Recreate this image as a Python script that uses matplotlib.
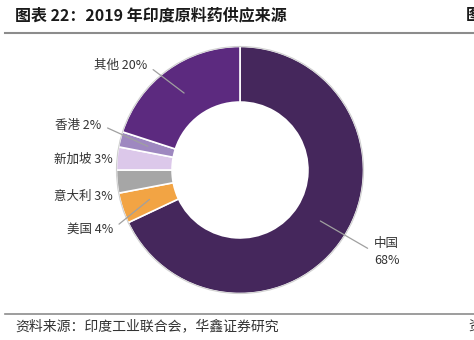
import numpy as np
import matplotlib
matplotlib.use("Agg")
import matplotlib.pyplot as plt
from matplotlib.lines import Line2D

plt.rcParams['font.family'] = ['Noto Sans CJK SC', 'DejaVu Sans']

categories = ['中国', '美国', '意大利', '新加坡', '香港', '其他']
values = [68, 4, 3, 3, 2, 20]
colors = ['#45275C', '#F2A444', '#A6A6A6', '#DCC8EA', '#9E88C0', '#5C2A7F']
title = '图表 22：2019 年印度原料药供应来源'
source = '资料来源：印度工业联合会，华鑫证券研究'

W, H = 474, 340
fig = plt.figure(figsize=(W / 100, H / 100), dpi=100)

cx, cy, R = 240, 170, 126
ax = fig.add_axes([(cx - R) / W, (H - cy - R) / H, 2 * R / W, 2 * R / H])
wedges, _ = ax.pie(values, colors=colors, startangle=90, counterclock=False,
                   radius=1.0,
                   wedgeprops=dict(width=0.45, edgecolor='white', linewidth=1.2))
outer = plt.Circle((0, 0), 1.0, fill=False, edgecolor='#D0D0D0', lw=0.8)
ax.add_patch(outer)
ax.set_xlim(-1.02, 1.02)
ax.set_ylim(-1.02, 1.02)
ax.set_aspect('equal')
ax.axis('off')

# label layout (pixel positions, top-left origin)
label_pos = {
    '中国': (374, 252),
    '美国': (113, 229),
    '意大利': (113, 196),
    '新加坡': (113, 159),
    '香港': (101, 125),
    '其他': (147, 65),
}
with_line = {'中国', '美国', '香港', '其他'}

total = sum(values)
cum = 0
for cat, v in zip(categories, values):
    mid = 90 - (cum + v / 2) / total * 360
    cum += v
    ang = np.deg2rad(mid)
    ax_pt = (0.77 * np.cos(ang), 0.77 * np.sin(ang))
    tx, ty = label_pos[cat]
    if cat == '中国':
        ax.annotate(f'{cat}\n{v}%', xy=ax_pt, xytext=(tx, H - ty),
                    textcoords='figure pixels', ha='left', va='center',
                    fontsize=9, color='#333333', linespacing=1.4,
                    arrowprops=dict(arrowstyle='-', color='#A0A0A0', lw=0.9,
                                    shrinkA=3, shrinkB=0, relpos=(0, 0.5)))
    else:
        ap = None
        if cat in with_line:
            ap = dict(arrowstyle='-', color='#A0A0A0', lw=0.9, shrinkA=3, shrinkB=0,
                      relpos=(1, 0.5))
        ax.annotate(f'{cat} {v}%', xy=ax_pt, xytext=(tx, H - ty),
                    textcoords='figure pixels', ha='right', va='center',
                    fontsize=9, color='#333333', arrowprops=ap)

# title and rules
fig.text(15 / W, 1 - 15 / H, title, fontsize=11.5, fontweight='bold', color='#1a1a1a',
         ha='left', va='center')
fig.text(466 / W, 1 - 15 / H, '图', fontsize=11.5, fontweight='bold', color='#1a1a1a',
         ha='left', va='center')
fig.add_artist(Line2D([5 / W, 1], [1 - 33 / H, 1 - 33 / H], color='#8C8C8C', lw=1.5,
                      transform=fig.transFigure))
fig.add_artist(Line2D([5 / W, 1], [1 - 314 / H, 1 - 314 / H], color='#8C8C8C', lw=1.2,
                      transform=fig.transFigure))
fig.text(15 / W, 1 - 326 / H, source, fontsize=10, color='#333333', ha='left', va='center')
fig.text(468 / W, 1 - 326 / H, '资', fontsize=10, color='#333333', ha='left', va='center')

fig.savefig('out.png', dpi=100)
